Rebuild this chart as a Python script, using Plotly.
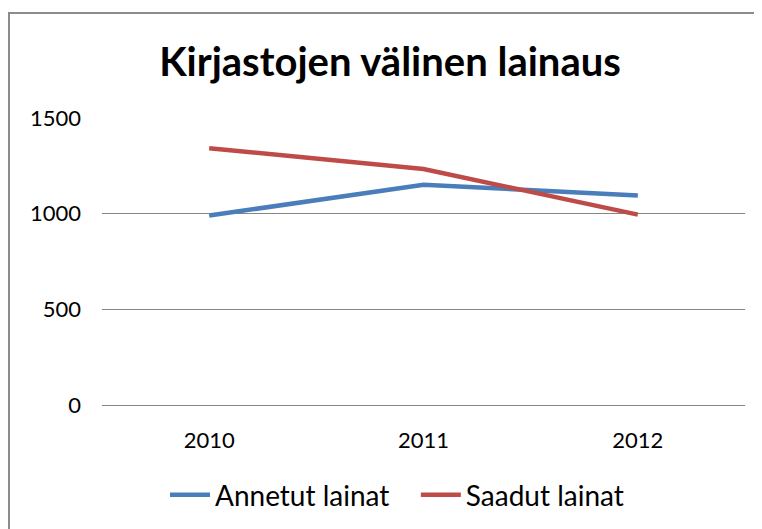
import plotly.graph_objects as go

years = ["2010", "2011", "2012"]
annetut = [990, 1151, 1095]
saadut = [1342, 1233, 995]
y_ticks = [0, 500, 1000, 1500]

OFF = 8  # page body margin
W, H = 762 - OFF, 529 - OFF
# plot area in page pixels: x 102..745, y 118..405
L, R, T, B = 102 - OFF, 762 - 745, 118 - OFF, 529 - 405
pw, ph = W - L - R, H - T - B

def px_x(p):
    return (p - OFF - L) / pw

def px_y(p):
    return (H - B - (p - OFF)) / ph

fig = go.Figure()
fig.add_trace(go.Scatter(x=years, y=annetut, name="Annetut lainat\u00a0\u00a0\u00a0", mode="lines",
                         line=dict(color="#4A7EBB", width=4.5)))
fig.add_trace(go.Scatter(x=years, y=saadut, name="Saadut lainat", mode="lines",
                         line=dict(color="#BE4B48", width=4.5)))

fig.update_layout(
    width=W, height=H,
    margin=dict(l=L, r=R, t=T, b=B, autoexpand=False),
    paper_bgcolor="white", plot_bgcolor="white",
    font=dict(family="Lato", size=22, color="#000000"),
    title=dict(text="<b>Kirjastojen välinen lainaus</b>", x=(390 - OFF) / W,
               xanchor="center", y=1 - (62 - OFF) / H, yanchor="middle",
               font=dict(family="Lato", size=40, color="#000000")),
    showlegend=True,
    legend=dict(orientation="h", x=px_x(397), xanchor="center", y=px_y(495), yanchor="middle",
                font=dict(size=28), itemwidth=40, tracegroupgap=0, bgcolor="rgba(0,0,0,0)"),
    xaxis=dict(type="category", range=[-0.5, 2.5], showgrid=False, showline=False, ticks="",
               ticklabelstandoff=20, tickfont=dict(size=22)),
    yaxis=dict(range=[0, 1500], tickvals=y_ticks, showgrid=True, gridcolor="#868686",
               gridwidth=1, zeroline=True, zerolinecolor="#868686", zerolinewidth=1,
               showline=False, ticks="", ticklabelstandoff=20, tickfont=dict(size=22)),
    shapes=[dict(type="rect", xref="paper", yref="paper",
                 x0=px_x(9), x1=px_x(755), y0=px_y(545), y1=px_y(13),
                 line=dict(color="#8C8C8C", width=2), fillcolor="rgba(0,0,0,0)", layer="below")],
)

fig.write_html("out.html")
